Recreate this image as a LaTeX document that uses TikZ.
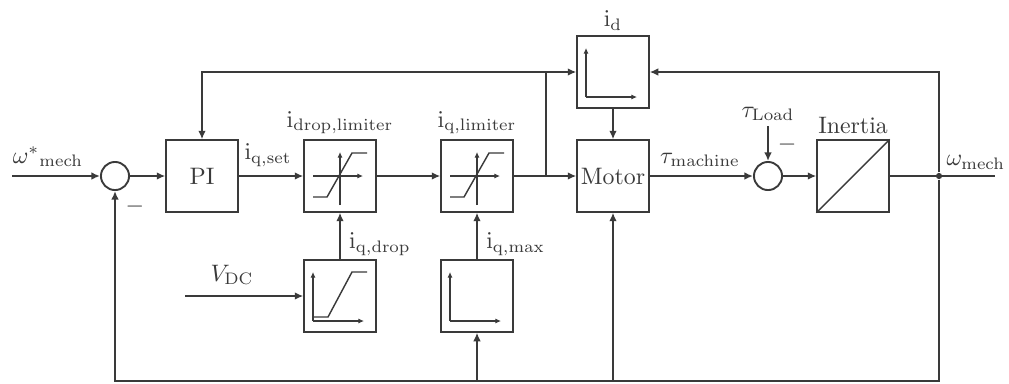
\documentclass[tikz,border=0pt]{standalone}
\usepackage{amsmath,amssymb}
\usepackage{tikz}
\usetikzlibrary{arrows.meta,positioning,calc}
\definecolor{cline}{HTML}{3A3A3A}
\tikzset{
  blk/.style={draw=cline, line width=0.8pt, minimum width=30pt, minimum height=30pt, inner sep=0pt, fill=white, text=cline},
  sumn/.style={circle, draw=cline, line width=0.8pt, minimum size=11.8pt, inner sep=0pt},
  sig/.style={-{Latex[length=3.6pt,width=3.2pt]}, line width=0.8pt, draw=cline},
  wire/.style={line width=0.8pt, draw=cline},
  ax/.style={-{Latex[length=2.4pt,width=2.2pt]}, line width=0.45pt, draw=cline},
  crv/.style={line width=0.6pt, draw=cline},
  lbl/.style={text=cline, inner sep=2pt},
  dot/.style={circle, fill=cline, inner sep=0pt, minimum size=2.6pt},
}

\begin{document}
\begin{tikzpicture}[x=0.42pt,y=-0.42pt]
\useasboundingbox (0,0) rectangle (1009,383);
% ---------------- blocks
\node[sumn] (s1) at (115,176) {};
\node[blk] (pi) at (202,176) {PI};
\node[blk] (dl) at (340,176) {};
\node[blk] (ql) at (477,176) {};
\node[blk] (id) at (613,72) {};
\node[blk] (mot) at (613,176) {Motor};
\node[sumn] (s2) at (768,176) {};
\node[blk] (inr) at (853,176) {};
\node[blk] (dr) at (340,296) {};
\node[blk] (qm) at (477,296) {};
% ---------------- wire corners
\coordinate (in) at (12,176);
\coordinate (out) at (995,176);
\coordinate (j1) at (546,176);
\coordinate (j1t) at (546,72);
\coordinate (pit) at (202,72);
\node[dot] (j2) at (939,176) {};
\coordinate (j2t) at (939,72);
\coordinate (b1) at (115,381);
\coordinate (b2) at (477,381);
\coordinate (b3) at (613,381);
\coordinate (b4) at (939,381);
\coordinate (vdc) at (185,296);
\coordinate (tl) at (768,126);
% ---------------- icons
\foreach \b in {dl,ql} {
  \begin{scope}[shift={(\b)}]
    \draw[ax] (-27,0) -- (23,0);
    \draw[ax] (0,29) -- (0,-24);
    \draw[crv] (-27,21) -- (-13,21) -- (12,-23) -- (27,-23);
  \end{scope}
}
\foreach \b in {dr,qm,id} {
  \begin{scope}[shift={(\b)}]
    \draw[ax] (-27,25) -- (-27,-24);
    \draw[ax] (-27,25) -- (24,25);
  \end{scope}
}
\begin{scope}[shift={(dr)}]
  \draw[crv] (-27,21) -- (-12,21) -- (12,-24) -- (27,-24);
\end{scope}
\draw[crv] (inr.south west) -- (inr.north east);
% ---------------- forward path
\draw[sig] (in) -- (s1);
\draw[sig] (s1) -- (pi);
\draw[sig] (pi) -- (dl);
\draw[sig] (dl) -- (ql);
\draw[sig] (ql) -- (mot);
\draw[sig] (j1) -- (j1t) -- (id.west);
\draw[sig] (j1t) -- (pit) -- (pi.north);
\draw[sig] (id) -- (mot);
\draw[sig] (mot) -- (s2);
\draw[sig] (tl) -- (s2);
\draw[sig] (s2) -- (inr);
\draw[wire] (inr) -- (out);
\draw[sig] (vdc) -- (dr);
\draw[sig] (dr) -- (dl);
\draw[sig] (qm) -- (ql);
% ---------------- feedback
\draw[sig] (j2) -- (j2t) -- (id.east);
\draw[sig] (j2) -- (b4) -- (b1) -- (s1);
\draw[sig] (b3) -- (mot);
\draw[sig] (b2) -- (qm);
% ---------------- labels
\node[lbl, anchor=south] (lin) at (48,172) {$\omega^{*}{}_{\mathrm{mech}}$};
\node[lbl, anchor=south east, inner sep=1pt] (lout) at (1008,172) {$\omega_{\mathrm{mech}}$};
\node[lbl, anchor=south] (lset) at (268,172) {$\mathrm{i}_{\mathrm{q,set}}$};
\node[lbl, above=0pt of dl] (ldl) {$\mathrm{i}_{\mathrm{drop,limiter}}$};
\node[lbl, above=0pt of ql] (lql) {$\mathrm{i}_{\mathrm{q,limiter}}$};
\node[lbl, above=0pt of id] (lid) {$\mathrm{i}_{\mathrm{d}}$};
\node[lbl, above=0pt of inr] (linr) {Inertia};
\node[lbl, anchor=south] (ltm) at (700,172) {$\tau_{\mathrm{machine}}$};
\node[lbl, anchor=south] (ltl) at (tl) {$\tau_{\mathrm{Load}}$};
\node[lbl, anchor=west] (ldrop) at (344,244) {$\mathrm{i}_{\mathrm{q,drop}}$};
\node[lbl, anchor=west] (lmax) at (481,244) {$\mathrm{i}_{\mathrm{q,max}}$};
\node[lbl, anchor=south] (lvdc) at (232,290) {$V_{\mathrm{DC}}$};
\node[lbl] (m1) at (135,207) {$-$};
\node[lbl] (m2) at (787,145) {$-$};
\end{tikzpicture}
\end{document}
